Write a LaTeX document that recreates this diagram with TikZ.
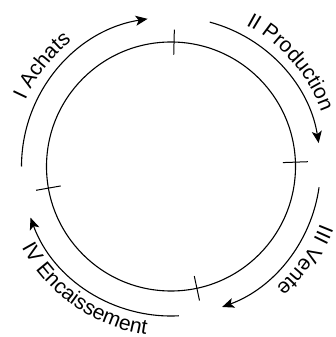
\documentclass[tikz,border=0pt]{standalone}
\usepackage{fontspec}
\setmainfont{Liberation Sans}
\usetikzlibrary{arrows.meta,decorations.text}
\newcommand\lblfont{\fontsize{21}{25}\selectfont}
\begin{document}
\begin{tikzpicture}[x=1pt,y=1pt,
  ring/.style={line width=1.1pt},
  flow/.style={line width=1.1pt,-{Stealth[length=12pt,width=10pt,inset=3pt]}},
  tickmark/.style={line width=1pt},
  lbl/.style={decorate,decoration={text along path,text align=center,text={#1}}}]
\useasboundingbox (0,0) rectangle (335,337);
\coordinate (c) at (171,170.5);
\draw[ring] (c) circle[radius=124.5];
\foreach \a in {88.6,2,-78,190}
  \draw[tickmark] ([shift={(\a:112)}]c) -- ([shift={(\a:137)}]c);
% arrows
\draw[flow] ([shift={(180:149.5)}]c) arc[start angle=180,end angle=99,radius=149.5];
\draw[flow] ([shift={(75:149.5)}]c) arc[start angle=75,end angle=9,radius=149.5];
\draw[flow] ([shift={(-8:149.5)}]c) arc[start angle=-8,end angle=-70,radius=149.5];
\draw[flow] ([shift={(-87:149.5)}]c) arc[start angle=-87,end angle=-160,radius=149.5];
% labels
\path[lbl={|\lblfont|I Achats}] ([shift={(182:160)}]c) arc[start angle=182,end angle=102,radius=160];
\path[lbl={|\lblfont|II Production}] ([shift={(82:160)}]c) arc[start angle=82,end angle=0,radius=160];
\path[lbl={|\lblfont|III Vente}] ([shift={(5:160)}]c) arc[start angle=5,end angle=-75,radius=160];
\path[lbl={|\lblfont|IV Encaissement}] ([shift={(184:170)}]c) arc[start angle=184,end angle=286,radius=170];
\end{tikzpicture}
\end{document}
